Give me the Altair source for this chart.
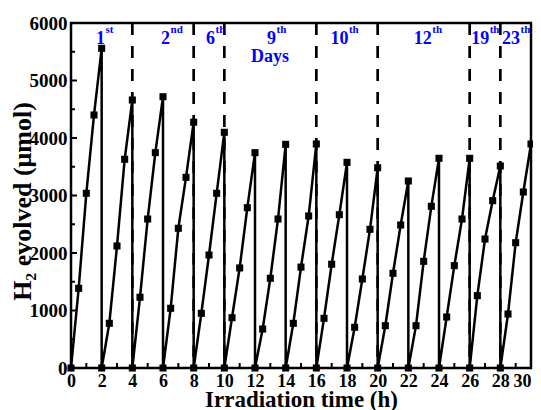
import altair as alt
import pandas as pd

# ---- data ----
cycle_start_h = [0, 2, 4, 6, 8, 10, 12, 14, 16, 18, 20, 22, 24, 26, 28]
sample_offsets_h = [0.0, 0.5, 1.0, 1.5, 2.0]
# H2 evolved (umol) at 0, 0.5, 1, 1.5, 2 h of each cycle
cycle_values = [
    [0, 1386, 3038, 4400, 5560],
    [0, 777, 2122, 3630, 4661],
    [0, 1230, 2591, 3745, 4718],
    [0, 1038, 2430, 3316, 4275],
    [0, 951, 1965, 3038, 4099],
    [0, 875, 1740, 2788, 3745],
    [0, 678, 1560, 2591, 3890],
    [0, 777, 1755, 2643, 3896],
    [0, 864, 1805, 2666, 3577],
    [0, 708, 1548, 2412, 3483],
    [0, 736, 1647, 2487, 3252],
    [0, 736, 1855, 2812, 3647],
    [0, 887, 1780, 2591, 3647],
    [0, 1258, 2243, 2910, 3513],
    [0, 939, 2179, 3061, 3896],
]
day_break_h = [4, 8, 10, 16, 20, 26, 28]
day_numbers = ["1", "2", "6", "9", "10", "12", "19", "23"]
day_suffixes = ["st", "nd", "th", "th", "th", "th", "th", "th"]
day_label_h = [2.22, 6.46, 9.39, 13.37, 18.09, 23.53, 27.27, 29.29]
days_word_h = [12.98]
x_tick_labels = list(range(0, 31, 2))
x_minor_ticks = list(range(0, 31, 1))
y_tick_labels = list(range(0, 6001, 1000))
y_minor_ticks = list(range(500, 6000, 1000))

rows = []
i = 0
for t0, vals in zip(cycle_start_h, cycle_values):
    for off, v in zip(sample_offsets_h, vals):
        rows.append({"idx": i, "t": t0 + off, "h2": v})
        i += 1
df = pd.DataFrame(rows)

FONT = "Liberation Serif"
BLUE = "#0000ff"
W, H = 460, 345

xscale = alt.Scale(domain=[0, 30], nice=False, zero=False)
yscale = alt.Scale(domain=[0, 6000], nice=False)

xaxis = alt.Axis(
    values=x_tick_labels, format="d", title="Irradiation time (h)", grid=False, domain=False,
    ticks=False, tickSize=0, labelFont=FONT, labelFontWeight="bold", labelFontSize=18,
    labelColor="black", labelBaseline="alphabetic", labelPadding=18, labelFlush=False,
    labelOverlap=False, labelBound=False,
    labelAlign=alt.ExprRef("datum.value == 30 ? 'right' : 'center'"),
    titleFont=FONT, titleFontWeight="bold", titleFontSize=23, titleColor="black",
    titleBaseline="alphabetic", titleY=38,
)
yaxis = alt.Axis(
    values=y_tick_labels, format="d", title="H₂ evolved (μmol)", grid=False, domain=False,
    ticks=False, tickSize=0, labelFont=FONT, labelFontWeight="bold", labelFontSize=19,
    labelColor="black", labelPadding=4, labelFlush=False, labelOverlap=False,
    titleFont=FONT, titleFontWeight="bold", titleFontSize=26, titleColor="black",
    titleAngle=270, titleAlign="center", titleBaseline="alphabetic",
    titleX=-41, titleY=178,
)

X = lambda f: alt.X(f, scale=xscale, axis=xaxis)
Y = lambda f: alt.Y(f, scale=yscale, axis=yaxis)

base = alt.Chart(df)
line = base.mark_line(color="black", strokeWidth=2.5).encode(
    x=X("t:Q"), y=Y("h2:Q"), order=alt.Order("idx:Q"),
)
points = base.mark_point(shape="square", filled=True, color="black", size=50, opacity=1).encode(
    x=X("t:Q"), y=Y("h2:Q"),
)

breaks_df = pd.DataFrame({"t": day_break_h, "top": [6000] * len(day_break_h), "bot": [0] * len(day_break_h)})
dashes = alt.Chart(breaks_df).mark_rule(color="black", strokeWidth=2.7, strokeDash=[12, 11]).encode(
    x=X("t:Q"), y=Y("top:Q"), y2="bot:Q"
)

lab_df = pd.DataFrame({"t": day_label_h, "num": day_numbers, "sup": day_suffixes})
nums = alt.Chart(lab_df).mark_text(
    font=FONT, fontWeight="bold", fontSize=18, color=BLUE, align="right", baseline="alphabetic"
).encode(x=X("t:Q"), y=alt.value(20.5), text="num:N")
sups = alt.Chart(lab_df).mark_text(
    font=FONT, fontWeight="bold", fontSize=11, color=BLUE, align="left", baseline="alphabetic", dx=0.5
).encode(x=X("t:Q"), y=alt.value(10), text="sup:N")
days = alt.Chart(pd.DataFrame({"t": days_word_h, "txt": ["Days"]})).mark_text(
    font=FONT, fontWeight="bold", fontSize=18, color=BLUE, align="center", baseline="alphabetic"
).encode(x=X("t:Q"), y=alt.value(39), text="txt:N")

xt_df = pd.DataFrame({"t": x_minor_ticks})
xticks = alt.Chart(xt_df).mark_rule(color="black", strokeWidth=2).encode(
    x=X("t:Q"), y=alt.value(H), y2=alt.value(H - 5)
)
ytm_df = pd.DataFrame({"v": y_tick_labels})
yticks = alt.Chart(ytm_df).mark_rule(color="black", strokeWidth=2).encode(
    y=Y("v:Q"), x=alt.value(0), x2=alt.value(6)
)
ytn_df = pd.DataFrame({"v": y_minor_ticks})
yminor = alt.Chart(ytn_df).mark_rule(color="black", strokeWidth=2).encode(
    y=Y("v:Q"), x=alt.value(0), x2=alt.value(4)
)

chart = alt.layer(line, dashes, xticks, yticks, yminor, points, nums, sups, days).properties(
    width=W, height=H,
    autosize=alt.AutoSizeParams(type="none"),
    padding={"left": 63, "top": 15, "right": 2, "bottom": 42},
    background="white",
).configure_view(stroke="black", strokeWidth=2.5)

chart.save("out.html", embed_options={"renderer": "svg", "actions": False})
